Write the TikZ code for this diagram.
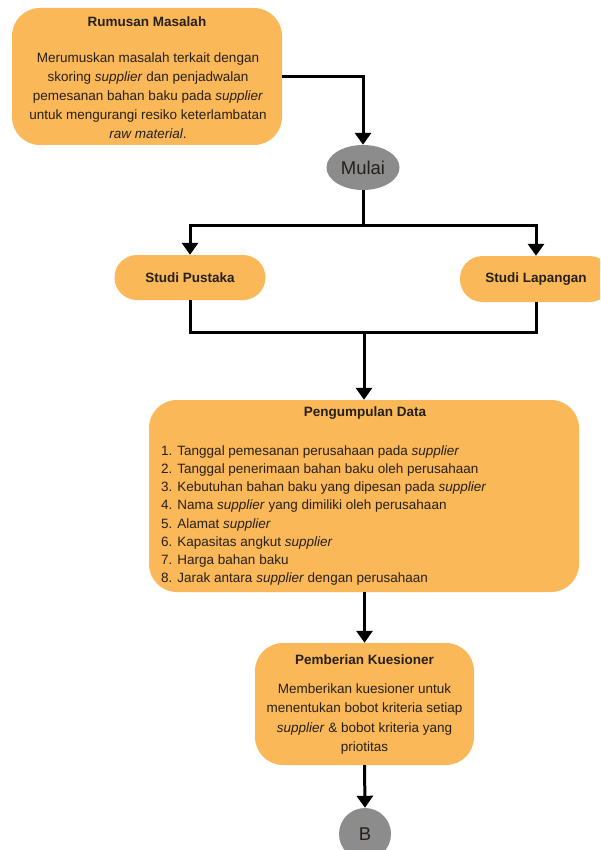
\documentclass[tikz,border=0pt]{standalone}
\usepackage{fontspec}
\setmainfont{Liberation Sans}
\usetikzlibrary{arrows.meta,shapes.geometric}
\definecolor{boxor}{RGB}{250,184,88}
\definecolor{circgray}{RGB}{140,140,140}
\definecolor{txt}{RGB}{38,32,26}
\tikzset{
  obox/.style={fill=boxor, draw=none, rounded corners=28pt, inner sep=0pt},
  pill/.style={fill=boxor, draw=none, rounded corners=22.5pt, inner sep=0pt},
  gcirc/.style={fill=circgray, draw=none, inner sep=0pt, text=txt, font=\fontsize{18.5}{20}\selectfont},
  ttl/.style={font=\fontsize{13.5}{15}\selectfont\bfseries, text=txt, inner sep=0pt},
  body/.style={text=txt, inner sep=0pt},
  conn/.style={line width=3pt, black},
  arr/.style={conn, -{Triangle[width=16pt,length=12pt]}}
}
\begin{document}
\begin{tikzpicture}[x=1pt,y=-1pt]
\useasboundingbox (0,0) rectangle (600,850);
\clip (0,0) rectangle (600,850);
\fill[white] (0,0) rectangle (600,850);

% Rumusan Masalah
\node[obox, minimum width=270pt, minimum height=137pt] (rm) at (147,76.5) {};
\node[ttl] (rmt) at (147,22) {Rumusan Masalah};
\node[body, align=center, font=\fontsize{13.5}{19}\selectfont] (rmb) at (148,95.5)
  {Merumuskan masalah terkait dengan\\
   skoring \textit{supplier} dan penjadwalan\\
   pemesanan bahan baku pada \textit{supplier}\\
   untuk mengurangi resiko keterlambatan\\
   \textit{raw material}.};

% Mulai
\node[gcirc, ellipse, minimum width=73pt, minimum height=45pt] (mulai) at (363,167.5) {Mulai};

% Studi nodes
\node[pill, minimum width=151pt, minimum height=45pt] (sp) at (190,277.5) {};
\node[ttl] (spt) at (190,277.5) {Studi Pustaka};
\node[pill, minimum width=152pt, minimum height=46pt] (sl) at (536,279) {};
\node[ttl] (slt) at (536,279) {Studi Lapangan};

% Pengumpulan Data
\node[obox, minimum width=430pt, minimum height=192pt] (pd) at (364,496) {};
\node[ttl] (pdt) at (365,413) {Pengumpulan Data};
\node[body, anchor=west, align=left, font=\fontsize{13.5}{18.15}\selectfont] (pdb) at (161,515.5)
  {1. Tanggal pemesanan perusahaan pada \textit{supplier}\\
   2. Tanggal penerimaan bahan baku oleh perusahaan\\
   3. Kebutuhan bahan baku yang dipesan pada \textit{supplier}\\
   4. Nama \textit{supplier} yang dimiliki oleh perusahaan\\
   5. Alamat \textit{supplier}\\
   6. Kapasitas angkut \textit{supplier}\\
   7. Harga bahan baku\\
   8. Jarak antara \textit{supplier} dengan perusahaan};

% Pemberian Kuesioner
\node[obox, minimum width=219pt, minimum height=122pt] (pk) at (364.5,704) {};
\node[ttl] (pkt) at (364.5,660) {Pemberian Kuesioner};
\node[body, align=center, font=\fontsize{13.5}{19.3}\selectfont] (pkb) at (364.5,719)
  {Memberikan kuesioner untuk\\
   menentukan bobot kriteria setiap\\
   \textit{supplier} \& bobot kriteria yang\\
   priotitas};

% B
\node[gcirc, circle, minimum size=52pt] (b) at (365,834) {B};

% connectors
\coordinate (s1) at (363,225);
\coordinate (m1) at (364,332);
\draw[arr] (rm.east) -| (mulai.north);
\draw[conn] (mulai.south) -- (s1);
\draw[arr] (s1) -| (sp.north);
\draw[arr] (s1) -| (sl.north);
\draw[conn, line join=miter] (sp.south) |- (m1) -| (sl.south);
\draw[arr] (m1) -- (pd.north);
\draw[arr] (pd.south -| pk.north) -- (pk.north);
\draw[arr] (pk.south) -- (b.north);
\end{tikzpicture}
\end{document}
